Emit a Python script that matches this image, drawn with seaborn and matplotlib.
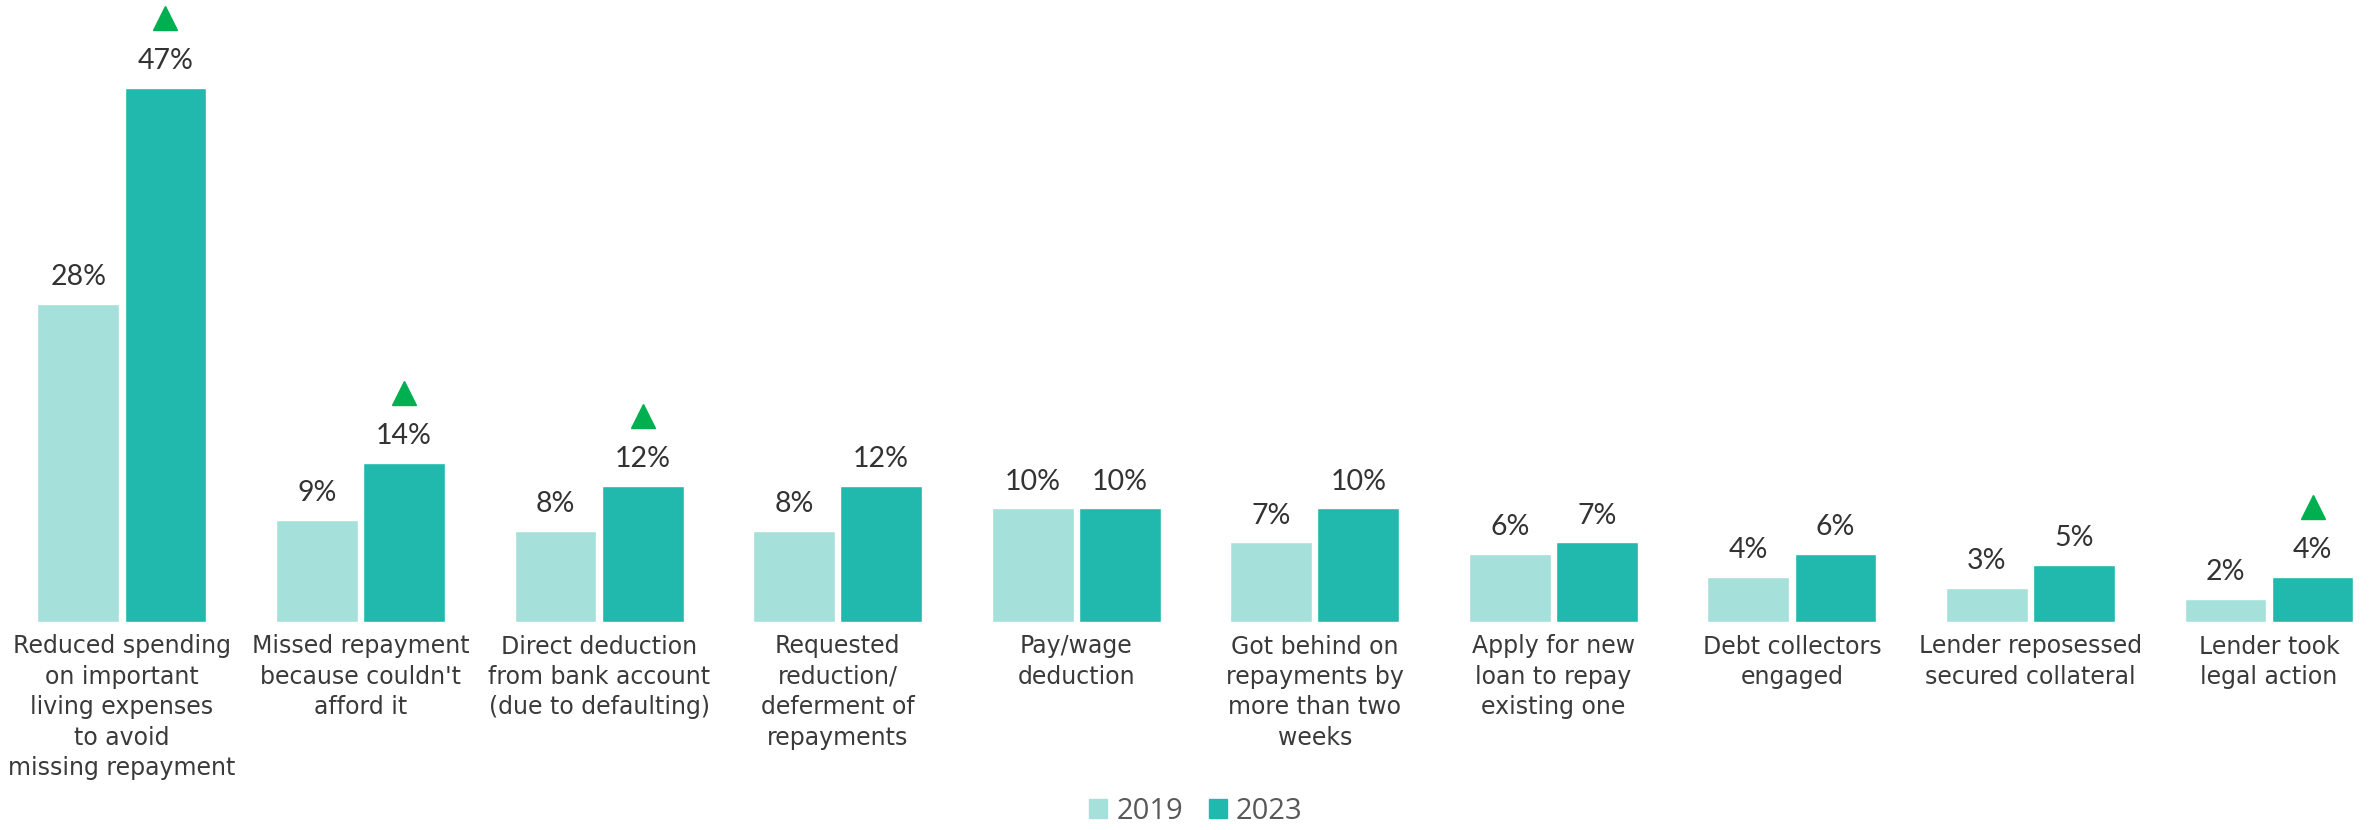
import matplotlib
matplotlib.use("Agg")
import matplotlib.pyplot as plt
import matplotlib.transforms as mtransforms
import seaborn as sns
import pandas as pd

categories = [
    "Reduced spending\non important\nliving expenses\nto avoid\nmissing repayment",
    "Missed repayment\nbecause couldn't\nafford it",
    "Direct deduction\nfrom bank account\n(due to defaulting)",
    "Requested\nreduction/\ndeferment of\nrepayments",
    "Pay/wage\ndeduction",
    "Got behind on\nrepayments by\nmore than two\nweeks",
    "Apply for new\nloan to repay\nexisting one",
    "Debt collectors\nengaged",
    "Lender reposessed\nsecured collateral",
    "Lender took\nlegal action",
]
values_2019 = [28, 9, 8, 8, 10, 7, 6, 4, 3, 2]
values_2023 = [47, 14, 12, 12, 10, 10, 7, 6, 5, 4]
significant_increase = [True, True, True, False, False, False, False, False, False, True]
years = ["2019", "2023"]

colors = {"2019": "#A6E0DA", "2023": "#21B9AE"}

df = pd.DataFrame({
    "category": categories * 2,
    "year": [years[0]] * len(categories) + [years[1]] * len(categories),
    "value": values_2019 + values_2023,
})

sns.set_theme(style="white")
plt.rcParams["font.family"] = ["DejaVu Sans"]

fig = plt.figure(figsize=(23.74, 8.30), dpi=100)
ax = fig.add_axes([0, 208 / 830, 1, 622 / 830])

sns.barplot(data=df, x="category", y="value", hue="year", order=categories,
            hue_order=years, palette=colors, width=0.73, gap=0.06,
            saturation=1, legend=False, ax=ax)

ax.set_xlim(-0.511, 9.44)
ax.set_ylim(0, 54.75)
for s in ax.spines.values():
    s.set_visible(False)
ax.set_yticks([])
ax.set_xlabel("")
ax.set_ylabel("")
ax.tick_params(axis="x", length=0, pad=9)
ax.set_xticks(range(len(categories)))
ax.set_xticklabels(categories, fontsize=17, color="#3A3A3A", linespacing=1.34)

# value labels above each bar
for cont in ax.containers:
    ax.bar_label(cont, labels=[f"{v:.0f}%" for v in cont.datavalues],
                 padding=10, fontsize=20.5, color="#333333", family="Lato")

# green up-arrows marking significant increases in 2023
tri_trans = mtransforms.offset_copy(ax.transData, fig=fig, y=70, units="dots")
bars_2023 = ax.containers[1]
for bar, flag in zip(bars_2023, significant_increase):
    if flag:
        x = bar.get_x() + bar.get_width() / 2
        ax.plot([x], [bar.get_height()], marker="^", ms=17.5, color="#00B050",
                mec="#00B050", transform=tri_trans, clip_on=False)

handles = [plt.Rectangle((0, 0), 1, 1, color=colors[y]) for y in years]
fig.legend(handles, years, loc="center", bbox_to_anchor=(1196 / 2374, 1 - 811 / 830),
           ncol=2, frameon=False, handlelength=0.62, handleheight=0.62,
           handletextpad=0.3, columnspacing=0.9,
           prop={"family": "Open Sans", "size": 21}, labelcolor="#595959")

fig.savefig("out.png", dpi=100)
